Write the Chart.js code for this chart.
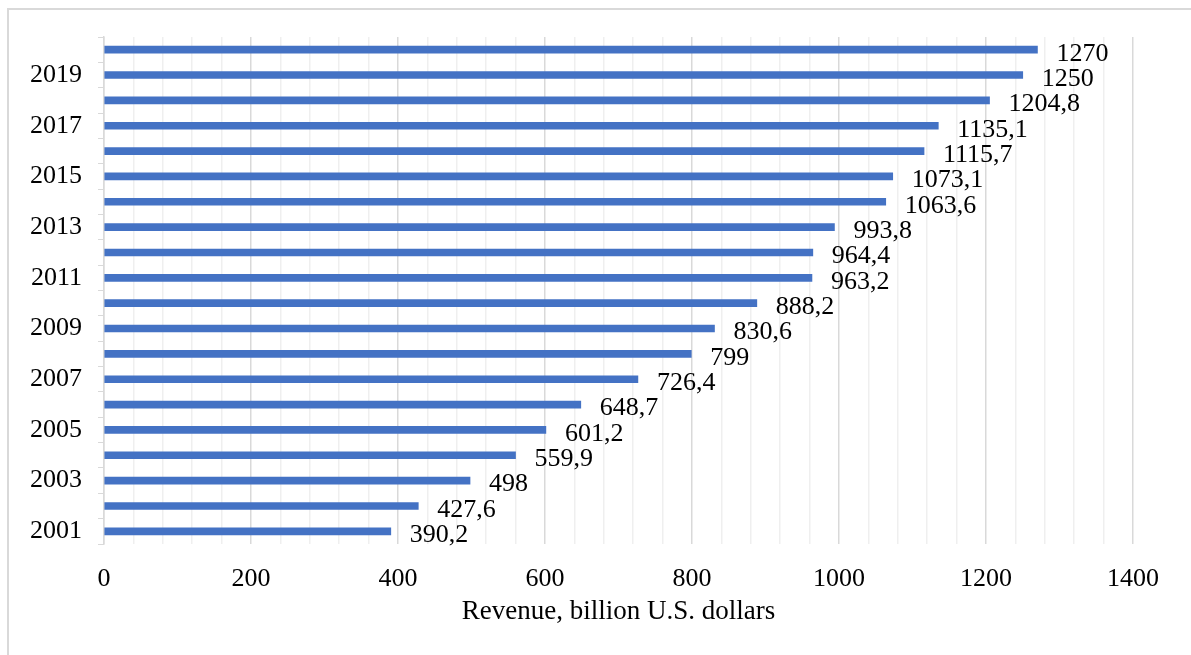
<!DOCTYPE html>
<html>
<head>
<meta charset="utf-8">
<script src="https://cdn.jsdelivr.net/npm/chart.js@4.4.1/dist/chart.umd.min.js"></script>
<style>
  html, body { margin: 0; padding: 0; background: #fff; overflow: hidden; }
  #wrap { position: relative; width: 1191px; height: 655px; overflow: hidden; }
  #frame {
    position: absolute; left: 7px; top: 8px; width: 1200px; height: 700px;
    border-top: 2px solid #d9d9d9; border-left: 2px solid #d9d9d9; pointer-events: none;
  }
  canvas { position: absolute; left: 0; top: 0; }
</style>
</head>
<body>
<div id="wrap">
  <canvas id="revenueChart" width="1191" height="655"></canvas>
  <div id="frame"></div>
</div>
<script>
// Revenue by year, billion U.S. dollars
const years = ['2001', '2002', '2003', '2004', '2005', '2006', '2007', '2008', '2009', '2010',
               '2011', '2012', '2013', '2014', '2015', '2016', '2017', '2018', '2019', '2020'];
const revenue = [390.2, 427.6, 498, 559.9, 601.2, 648.7, 726.4, 799, 830.6, 888.2,
                 963.2, 964.4, 993.8, 1063.6, 1073.1, 1115.7, 1135.1, 1204.8, 1250, 1270];
const xTicks = [0, 200, 400, 600, 800, 1000, 1200, 1400];

const FONT = '"Liberation Serif", "Times New Roman", serif';
const TEXT = '#000000';

// value labels to the right of each bar, comma as decimal separator
const barLabels = {
    id: 'barLabels',
    afterDatasetsDraw(chart) {
        const ctx = chart.ctx;
        const meta = chart.getDatasetMeta(0);
        ctx.save();
        ctx.font = '26px ' + FONT;
        ctx.fillStyle = TEXT;
        ctx.textAlign = 'left';
        ctx.textBaseline = 'middle';
        meta.data.forEach((bar, i) => {
            const txt = String(revenue[i]).replace('.', ',');
            ctx.fillText(txt, bar.x + 19, bar.y + 4);
        });
        ctx.restore();
    }
};

new Chart(document.getElementById('revenueChart'), {
    type: 'bar',
    data: {
        labels: years,
        datasets: [{
            data: revenue,
            backgroundColor: '#4472c4',
            barThickness: 7
        }]
    },
    plugins: [barLabels],
    options: {
        indexAxis: 'y',
        responsive: false,
        animation: false,
        layout: { padding: { top: 37, right: 58, left: 0, bottom: 0 } },
        plugins: {
            legend: { display: false },
            tooltip: { enabled: false }
        },
        scales: {
            x: {
                min: 0,
                max: 1400,
                afterFit: s => { s.height = 111; },
                afterBuildTicks: s => {
                    // minor gridlines every 40, labels only on the 200 steps
                    const t = [];
                    for (let v = 0; v <= 1400; v += 40) t.push({ value: v });
                    s.ticks = t;
                },
                ticks: {
                    autoSkip: false,
                    maxRotation: 0,
                    padding: 20,
                    color: TEXT,
                    font: { family: FONT, size: 26 },
                    callback: v => xTicks.includes(v) ? String(v) : ''
                },
                grid: {
                    drawTicks: false,
                    color: c => (c.tick && c.tick.value % 200 === 0) ? '#d9d9d9' : '#efefef',
                    lineWidth: 1.5
                },
                border: { display: false },
                title: {
                    display: true,
                    text: 'Revenue, billion U.S. dollars',
                    color: TEXT,
                    font: { family: FONT, size: 27 },
                    padding: { top: 0, bottom: 27 }
                }
            },
            y: {
                reverse: true,
                afterFit: s => { s.width = 104; },
                ticks: {
                    autoSkip: false,
                    padding: 16,
                    color: TEXT,
                    font: { family: FONT, size: 26 },
                    callback: function (v, i) { return i % 2 === 0 ? years[i] : ''; }
                },
                grid: {
                    drawOnChartArea: false,
                    drawTicks: true,
                    tickLength: 6,
                    color: '#d9d9d9'
                },
                border: { display: true, color: '#d9d9d9', width: 1.5 }
            }
        }
    }
});
</script>
</body>
</html>
